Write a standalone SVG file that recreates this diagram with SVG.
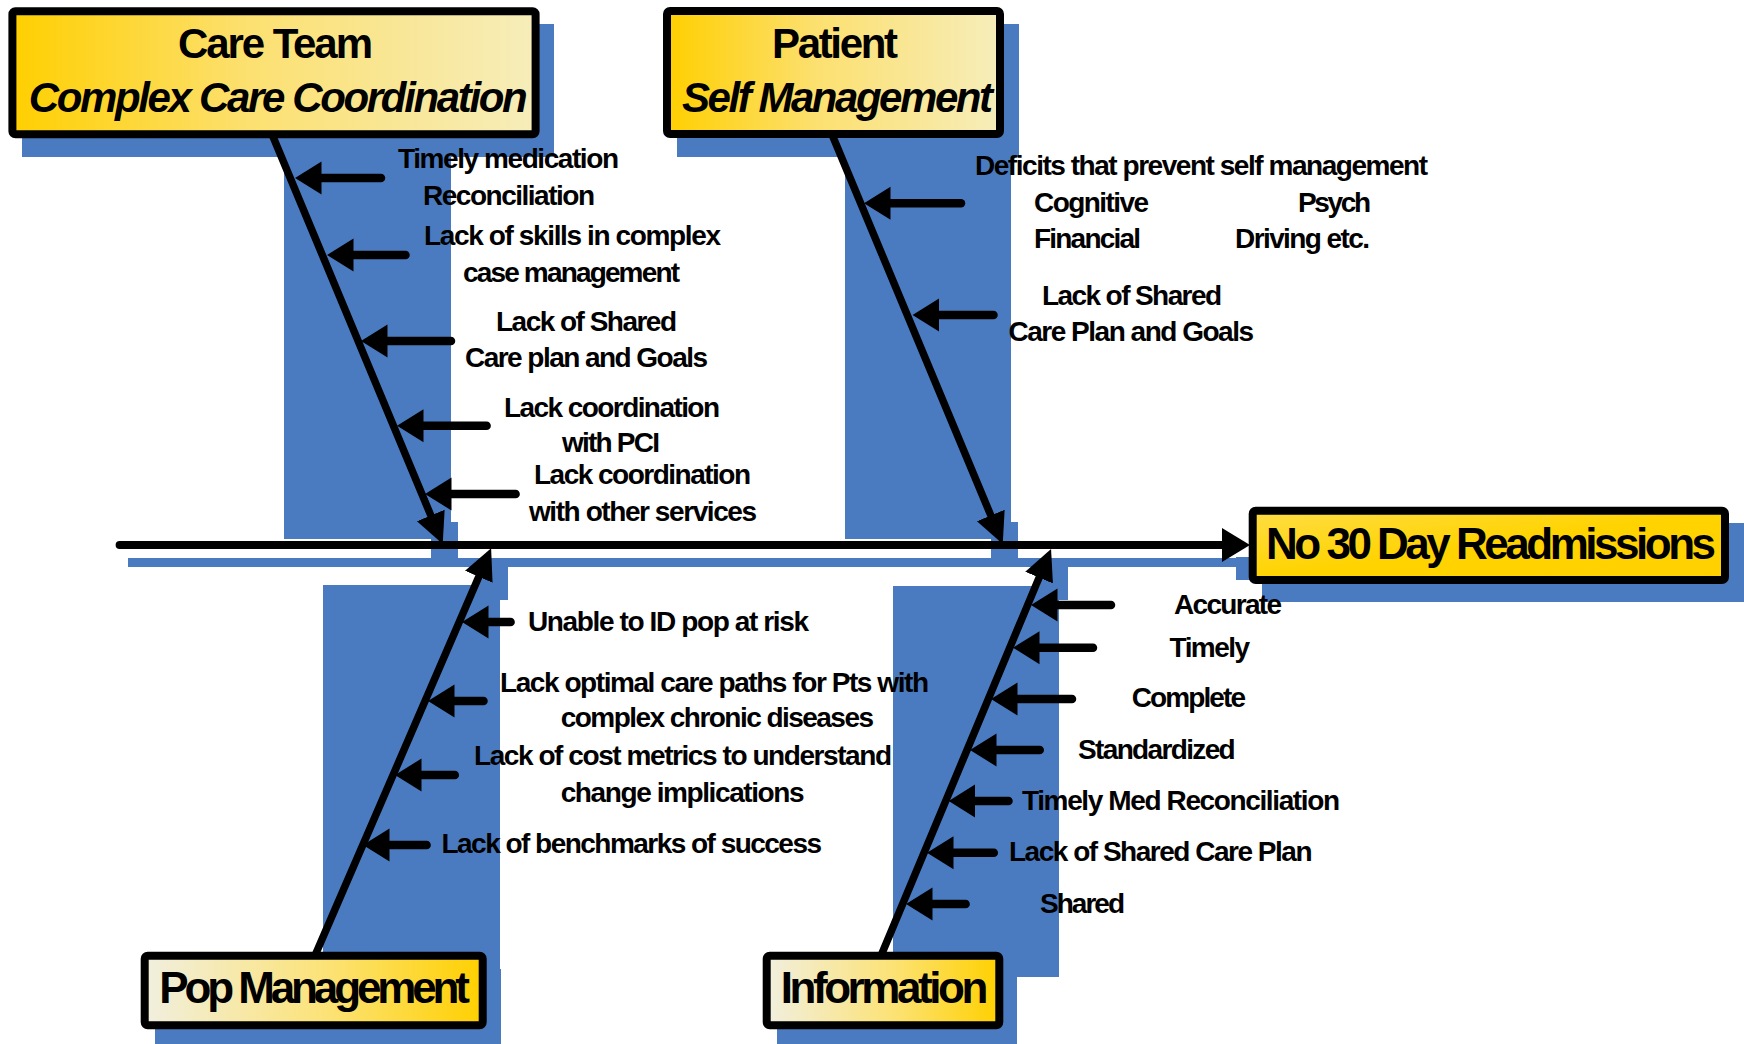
<svg xmlns="http://www.w3.org/2000/svg" width="1744" height="1044" viewBox="0 0 1744 1044">
<style>
.sh{fill:#4A7BC1}
.box{stroke:#000;stroke-width:8;stroke-linejoin:round}
.t{font-family:"Liberation Sans",Arial,sans-serif;font-weight:bold;font-size:28px;fill:#000}
.h{font-size:42px}
.hb{font-size:44px}
.it{font-style:italic}
.ln{stroke:#000;stroke-width:8.5;stroke-linecap:round;fill:none}
.bone{stroke-width:7.5}
.spine{stroke-width:8}
</style>
<defs>
<linearGradient id="gTop" x1="0" y1="0" x2="1" y2="0">
<stop offset="0" stop-color="#FFCF00"/>
<stop offset="0.45" stop-color="#FCE070"/>
<stop offset="1" stop-color="#F6EDBA"/>
</linearGradient>
<linearGradient id="gBot" x1="0" y1="0" x2="1" y2="0">
<stop offset="0" stop-color="#F1EFDF"/>
<stop offset="0.55" stop-color="#FCE274"/>
<stop offset="1" stop-color="#FFD000"/>
</linearGradient>
<linearGradient id="gOut" x1="0" y1="0" x2="1" y2="1">
<stop offset="0" stop-color="#FFDD45"/>
<stop offset="0.5" stop-color="#FFD300"/>
<stop offset="1" stop-color="#FFD000"/>
</linearGradient>
<marker id="ah" markerUnits="userSpaceOnUse" viewBox="0 -18 30 36" markerWidth="30" markerHeight="36" refX="0" refY="0" orient="auto">
<path d="M0,-16.5 L26.5,0 L0,16.5 Z" fill="#000"/>
</marker>
<marker id="bh" markerUnits="userSpaceOnUse" viewBox="0 -16 33 32" markerWidth="33" markerHeight="32" refX="0" refY="0" orient="auto">
<path d="M0,-15 L31,0 L0,15 Z" fill="#000"/>
</marker>
<marker id="sh" markerUnits="userSpaceOnUse" viewBox="0 -18 30 36" markerWidth="30" markerHeight="36" refX="0" refY="0" orient="auto">
<path d="M0,-17 L28,0 L0,17 Z" fill="#000"/>
</marker>
</defs>

<g id="shadows">
<rect class="sh" x="22" y="24" width="532" height="133"/>
<rect class="sh" x="284" y="150" width="167" height="389"/>
<rect class="sh" x="431" y="522" width="27" height="36"/>
<rect class="sh" x="677" y="24" width="342" height="133"/>
<rect class="sh" x="845" y="150" width="166" height="389"/>
<rect class="sh" x="991" y="522" width="27" height="36"/>
<rect class="sh" x="128" y="558" width="1120" height="9"/>
<rect class="sh" x="1236" y="557" width="26" height="23"/>
<rect class="sh" x="1262" y="523" width="482" height="79"/>
<rect class="sh" x="478" y="558" width="30" height="42"/>
<rect class="sh" x="323" y="585" width="177" height="390"/>
<rect class="sh" x="155" y="969" width="346" height="80"/>
<rect class="sh" x="1040" y="558" width="28" height="42"/>
<rect class="sh" x="893" y="586" width="166" height="391"/>
<rect class="sh" x="777" y="969" width="240" height="80"/>
</g>

<g id="connectors">
<line class="ln spine" x1="119.6" y1="545" x2="1222" y2="545" marker-end="url(#sh)"/>
<line class="ln bone" x1="271.9" y1="134" x2="430.8" y2="515.4" marker-end="url(#bh)"/>
<line class="ln bone" x1="831.8" y1="134" x2="990.8" y2="515.4" marker-end="url(#bh)"/>
<line class="ln bone" x1="314.8" y1="956" x2="478.8" y2="576.8" marker-end="url(#bh)"/>
<line class="ln bone" x1="880.9" y1="956" x2="1039.1" y2="577.6" marker-end="url(#bh)"/>
<line class="ln" x1="381" y1="178" x2="321.5" y2="178" marker-end="url(#ah)"/>
<line class="ln" x1="405.5" y1="255" x2="353.5" y2="255" marker-end="url(#ah)"/>
<line class="ln" x1="451" y1="341" x2="387.5" y2="341" marker-end="url(#ah)"/>
<line class="ln" x1="486.6" y1="425.7" x2="423.5" y2="425.7" marker-end="url(#ah)"/>
<line class="ln" x1="515.6" y1="494" x2="451.5" y2="494" marker-end="url(#ah)"/>
<line class="ln" x1="961" y1="203.3" x2="890.5" y2="203.3" marker-end="url(#ah)"/>
<line class="ln" x1="993.5" y1="315" x2="939" y2="315" marker-end="url(#ah)"/>
<line class="ln" x1="510.6" y1="622" x2="488.5" y2="622" marker-end="url(#ah)"/>
<line class="ln" x1="483.5" y1="701" x2="454.5" y2="701" marker-end="url(#ah)"/>
<line class="ln" x1="454.8" y1="775" x2="421.5" y2="775" marker-end="url(#ah)"/>
<line class="ln" x1="426.6" y1="845" x2="389.5" y2="845" marker-end="url(#ah)"/>
<line class="ln" x1="1111" y1="605" x2="1057.5" y2="605" marker-end="url(#ah)"/>
<line class="ln" x1="1093" y1="647.7" x2="1039.5" y2="647.7" marker-end="url(#ah)"/>
<line class="ln" x1="1072" y1="699" x2="1017.5" y2="699" marker-end="url(#ah)"/>
<line class="ln" x1="1039.75" y1="750" x2="996.5" y2="750" marker-end="url(#ah)"/>
<line class="ln" x1="1008.5" y1="801" x2="975.2" y2="801" marker-end="url(#ah)"/>
<line class="ln" x1="993.8" y1="852.7" x2="953.5" y2="852.7" marker-end="url(#ah)"/>
<line class="ln" x1="965.6" y1="904" x2="932.5" y2="904" marker-end="url(#ah)"/>
</g>

<g id="care-team">
<rect class="box" x="12.4" y="11.3" width="523.2" height="123" rx="3" fill="url(#gTop)"/>
<text class="t h" x="178" y="58" textLength="195">Care Team</text>
<text class="t h it" x="28.7" y="112" textLength="499">Complex Care Coordination</text>
</g>

<g id="patient">
<rect class="box" x="667" y="11" width="333" height="123" rx="3" fill="url(#gTop)"/>
<text class="t h" x="772" y="58.3" textLength="126">Patient</text>
<text class="t h it" x="682" y="112" textLength="311">Self Management</text>
</g>

<g id="outcome">
<rect class="box" x="1252.7" y="510.7" width="472.3" height="69.3" rx="3" fill="url(#gOut)"/>
<text class="t hb" x="1266" y="559" textLength="450">No 30 Day Readmissions</text>
</g>

<g id="pop-management">
<rect class="box" x="144.7" y="955.7" width="338" height="69.6" rx="3" fill="url(#gBot)"/>
<text class="t hb" x="159.3" y="1003.3" textLength="310.7">Pop Management</text>
</g>

<g id="information">
<rect class="box" x="766.7" y="955.7" width="232.6" height="69.6" rx="3" fill="url(#gBot)"/>
<text class="t hb" x="780.7" y="1003.3" textLength="207.6">Information</text>
</g>

<g id="causes-care-team">
<text class="t" x="398" y="168" textLength="221">Timely medication</text>
<text class="t" x="423" y="205" textLength="172">Reconciliation</text>
<text class="t" x="424" y="245" textLength="297">Lack of skills in complex</text>
<text class="t" x="463" y="282" textLength="217">case management</text>
<text class="t" x="496" y="331" textLength="181">Lack of Shared</text>
<text class="t" x="465" y="367" textLength="243">Care plan and Goals</text>
<text class="t" x="504" y="417" textLength="216">Lack coordination</text>
<text class="t" x="562" y="452" textLength="98">with PCI</text>
<text class="t" x="534" y="484" textLength="217">Lack coordination</text>
<text class="t" x="529" y="521" textLength="228">with other services</text>
</g>

<g id="causes-patient">
<text class="t" x="975" y="175" textLength="453">Deficits that prevent self management</text>
<text class="t" x="1034" y="211.7" textLength="115">Cognitive</text>
<text class="t" x="1298" y="211.7" textLength="73">Psych</text>
<text class="t" x="1034" y="248.3" textLength="107">Financial</text>
<text class="t" x="1235" y="248.3" textLength="135">Driving etc.</text>
<text class="t" x="1042" y="305" textLength="180">Lack of Shared</text>
<text class="t" x="1008.5" y="340.5" textLength="245.5">Care Plan and Goals</text>
</g>

<g id="causes-pop-management">
<text class="t" x="528" y="631" textLength="281">Unable to ID pop at risk</text>
<text class="t" x="500" y="691.7" textLength="429">Lack optimal care paths for Pts with</text>
<text class="t" x="560.7" y="726.7" textLength="313.3">complex chronic diseases</text>
<text class="t" x="474" y="765" textLength="418">Lack of cost metrics to understand</text>
<text class="t" x="560.7" y="801.7" textLength="243.9">change implications</text>
<text class="t" x="441.5" y="853" textLength="380.5">Lack of benchmarks of success</text>
</g>

<g id="causes-information">
<text class="t" x="1174" y="614" textLength="108">Accurate</text>
<text class="t" x="1169.6" y="656.7" textLength="80.4">Timely</text>
<text class="t" x="1131.7" y="706.7" textLength="114.3">Complete</text>
<text class="t" x="1078" y="759" textLength="157.7">Standardized</text>
<text class="t" x="1022" y="810" textLength="318">Timely Med Reconciliation</text>
<text class="t" x="1009" y="861" textLength="303.5">Lack of Shared Care Plan</text>
<text class="t" x="1040" y="912.7" textLength="85">Shared</text>
</g>
</svg>
